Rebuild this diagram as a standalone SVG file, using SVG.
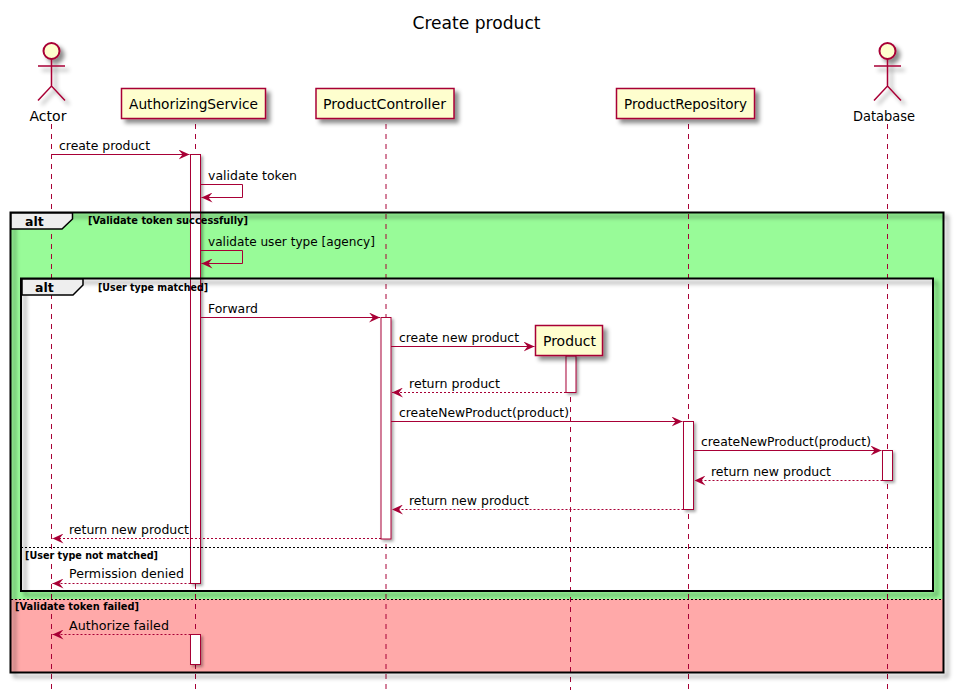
<svg xmlns="http://www.w3.org/2000/svg" width="955" height="695" viewBox="0 0 955 695">
<style>
text{font-family:"DejaVu Sans","Open Sans",sans-serif;fill:#000;}
.m{font-size:12.5px}
.n{font-size:14px}
.g{font-size:10.5px;font-weight:700}
.alt{font-size:12.5px;font-weight:700}
.life{stroke:#A80036;stroke-width:1;stroke-dasharray:5,5;fill:none}
.box{fill:#FEFECE;stroke:#A80036;stroke-width:1.5;filter:url(#s)}
.head{fill:#FEFECE;stroke:#A80036;stroke-width:2}
.act{fill:#fff;stroke:#A80036;stroke-width:1;filter:url(#s2)}
.msg{stroke:#A80036;stroke-width:1;fill:none;marker-end:url(#a)}
.ret{stroke:#A80036;stroke-width:1;fill:none;stroke-dasharray:2,2;marker-end:url(#a)}
.fr{fill:none;stroke:#000;stroke-width:2;filter:url(#s)}
.tab{fill:#EEE;stroke:#000;stroke-width:1.5}
.sep{stroke:#000;stroke-width:1;stroke-dasharray:2,2}
.st{fill:none;stroke:#A80036;stroke-width:1.5}
</style>
<defs>
<filter id="s" x="-20%" y="-20%" width="150%" height="150%"><feDropShadow dx="4" dy="4" stdDeviation="2" flood-color="#000" flood-opacity=".45"/></filter>
<filter id="s2" x="-50%" y="-20%" width="250%" height="150%"><feDropShadow dx="2" dy="2" stdDeviation="1.500" flood-color="#000" flood-opacity=".35"/></filter>
<marker id="a" viewBox="0 0 12 10" refX="11" refY="5" markerWidth="12" markerHeight="10" markerUnits="userSpaceOnUse" orient="auto"><path d="M0 0L11 5L0 10L4 5Z" fill="#A80036"/></marker>
</defs>
<rect width="955" height="695" fill="#fff"/>
<text x="476.500" y="29" text-anchor="middle" font-size="18" textLength="128" lengthAdjust="spacingAndGlyphs">Create product</text>

<rect x="11" y="213" width="932" height="386" fill="#98FB98"/>
<rect x="11" y="599" width="932" height="73" fill="#FFA9A9"/>
<rect x="21" y="279" width="912" height="312" fill="#fff"/>

<g id="lifelines">
<line class="life" x1="51.500" y1="124" x2="51.500" y2="690"/>
<line class="life" x1="195.500" y1="124" x2="195.500" y2="690"/>
<line class="life" x1="386" y1="124" x2="386" y2="690"/>
<line class="life" x1="570.500" y1="357" x2="570.500" y2="690"/>
<line class="life" x1="688.500" y1="124" x2="688.500" y2="690"/>
<line class="life" x1="887.500" y1="124" x2="887.500" y2="690"/>
</g>

<g id="activations">
<rect class="act" x="190.500" y="154.500" width="10" height="429"/>
<rect class="act" x="190.500" y="634.500" width="10" height="30"/>
<rect class="act" x="381" y="317.500" width="10" height="221.500"/>
<rect class="act" x="566" y="356" width="10" height="36.500"/>
<rect class="act" x="683.500" y="421.500" width="10" height="88"/>
<rect class="act" x="882.500" y="450.500" width="10" height="30"/>
</g>

<g id="frames">
<rect class="fr" x="10.500" y="212.500" width="933" height="460"/>
<path class="tab" d="M11 213H72.500V219L62 229H11Z"/>
<text class="alt" x="25" y="226">alt</text>
<text class="g" x="88" y="224" textLength="160" lengthAdjust="spacingAndGlyphs">[Validate token successfully]</text>
<rect class="fr" x="21" y="278.500" width="912" height="312.500"/>
<path class="tab" d="M22 279H83V285L73 295H22Z"/>
<text class="alt" x="35" y="292">alt</text>
<text class="g" x="98" y="291" textLength="110" lengthAdjust="spacingAndGlyphs">[User type matched]</text>
<line class="sep" x1="21" y1="547.500" x2="933" y2="547.500"/>
<text class="g" x="25" y="559" textLength="133" lengthAdjust="spacingAndGlyphs">[User type not matched]</text>
<line class="sep" x1="11" y1="599.500" x2="943" y2="599.500"/>
<text class="g" x="15" y="610" textLength="124" lengthAdjust="spacingAndGlyphs">[Validate token failed]</text>
</g>

<g id="actor-actor">
<g filter="url(#s)"><circle class="head" cx="51.500" cy="51" r="8"/><path class="st" d="M51.500 59V86M38 66H65M38 100.500L51.500 86L65 100.500"/></g>
<text class="n" x="48" y="121" text-anchor="middle" textLength="37" lengthAdjust="spacingAndGlyphs">Actor</text>
</g>
<g id="actor-database">
<g filter="url(#s)"><circle class="head" cx="887.500" cy="51" r="8"/><path class="st" d="M887.500 59V86M874 66H901M874 100.500L887.500 86L901 100.500"/></g>
<text class="n" x="884" y="121" text-anchor="middle" textLength="62" lengthAdjust="spacingAndGlyphs">Database</text>
</g>
<g id="authorizing-service">
<rect class="box" x="121.500" y="88.500" width="144" height="30"/>
<text class="n" x="129" y="109" textLength="129" lengthAdjust="spacingAndGlyphs">AuthorizingService</text>
</g>
<g id="product-controller">
<rect class="box" x="316" y="88.500" width="138" height="30"/>
<text class="n" x="323" y="109" textLength="123" lengthAdjust="spacingAndGlyphs">ProductController</text>
</g>
<g id="product-repository">
<rect class="box" x="616.500" y="88.500" width="138" height="30"/>
<text class="n" x="624" y="109" textLength="123" lengthAdjust="spacingAndGlyphs">ProductRepository</text>
</g>
<g id="product">
<rect class="box" x="535.500" y="325.500" width="67" height="30"/>
<text class="n" x="543" y="346" textLength="53" lengthAdjust="spacingAndGlyphs">Product</text>
</g>

<g id="connectors">
<line class="msg" x1="51.500" y1="154.500" x2="189.500" y2="154.500"/>
<path class="msg" d="M200.500 184.500H242.500V197.500H201.500"/>
<path class="msg" d="M200.500 250.500H242.500V263.500H201.500"/>
<line class="msg" x1="200.500" y1="317.500" x2="380" y2="317.500"/>
<line class="msg" x1="391" y1="346.500" x2="534.500" y2="346.500"/>
<line class="ret" x1="566" y1="392.500" x2="392" y2="392.500"/>
<line class="msg" x1="391" y1="421.500" x2="682.500" y2="421.500"/>
<line class="msg" x1="693.500" y1="450.500" x2="881.500" y2="450.500"/>
<line class="ret" x1="882.500" y1="480.500" x2="694.500" y2="480.500"/>
<line class="ret" x1="683.500" y1="509.500" x2="392" y2="509.500"/>
<line class="ret" x1="381" y1="538.500" x2="52.500" y2="538.500"/>
<line class="ret" x1="190.500" y1="583.500" x2="52.500" y2="583.500"/>
<line class="ret" x1="190.500" y1="634.500" x2="52.500" y2="634.500"/>
</g>

<g id="labels">
<text class="m" x="59" y="150" textLength="91" lengthAdjust="spacingAndGlyphs">create product</text>
<text class="m" x="208" y="180" textLength="89" lengthAdjust="spacingAndGlyphs">validate token</text>
<text class="m" x="208" y="246" textLength="167" lengthAdjust="spacingAndGlyphs">validate user type [agency]</text>
<text class="m" x="208" y="313" textLength="50" lengthAdjust="spacingAndGlyphs">Forward</text>
<text class="m" x="399" y="342" textLength="120" lengthAdjust="spacingAndGlyphs">create new product</text>
<text class="m" x="409" y="388" textLength="91" lengthAdjust="spacingAndGlyphs">return product</text>
<text class="m" x="399" y="417" textLength="170" lengthAdjust="spacingAndGlyphs">createNewProduct(product)</text>
<text class="m" x="701" y="446" textLength="170" lengthAdjust="spacingAndGlyphs">createNewProduct(product)</text>
<text class="m" x="711" y="476" textLength="120" lengthAdjust="spacingAndGlyphs">return new product</text>
<text class="m" x="409" y="505" textLength="120" lengthAdjust="spacingAndGlyphs">return new product</text>
<text class="m" x="69" y="534" textLength="120" lengthAdjust="spacingAndGlyphs">return new product</text>
<text class="m" x="69" y="578" textLength="115" lengthAdjust="spacingAndGlyphs">Permission denied</text>
<text class="m" x="69" y="630" textLength="100" lengthAdjust="spacingAndGlyphs">Authorize failed</text>
</g>
</svg>
